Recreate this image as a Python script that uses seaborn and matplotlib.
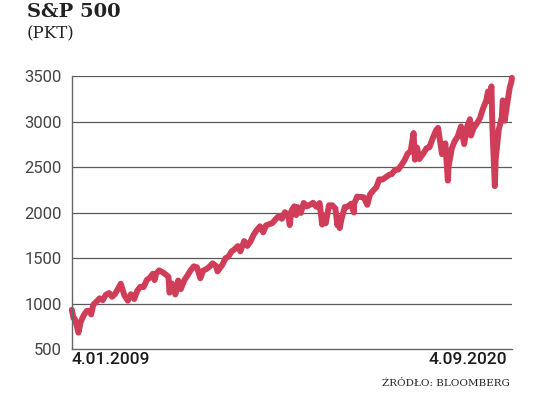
import matplotlib
matplotlib.use("Agg")
import matplotlib.pyplot as plt
import seaborn as sns
import pandas as pd
import numpy as np

dates = [
    "2009-01-04", "2009-01-20", "2009-02-02", "2009-02-23", "2009-03-09", "2009-03-31", "2009-04-30", "2009-05-29",
    "2009-06-30", "2009-07-10", "2009-07-31", "2009-08-31", "2009-09-30", "2009-10-30", "2009-11-30", "2009-12-31",
    "2010-01-29", "2010-02-26", "2010-03-31", "2010-04-23", "2010-05-28", "2010-06-30", "2010-07-30", "2010-08-31",
    "2010-09-30", "2010-10-29", "2010-11-30", "2010-12-31",
    "2011-01-31", "2011-02-28", "2011-03-16", "2011-03-31", "2011-04-29", "2011-05-31", "2011-06-30", "2011-07-29",
    "2011-08-08", "2011-08-31", "2011-09-30", "2011-10-03", "2011-10-31", "2011-11-25", "2011-12-30",
    "2012-01-31", "2012-02-29", "2012-03-30", "2012-04-30", "2012-06-01", "2012-06-29", "2012-07-31", "2012-08-31",
    "2012-09-28", "2012-10-31", "2012-11-15", "2012-12-31",
    "2013-01-31", "2013-02-28", "2013-03-29", "2013-04-30", "2013-05-31", "2013-06-24", "2013-07-31", "2013-08-30",
    "2013-09-30", "2013-10-31", "2013-11-29", "2013-12-31",
    "2014-01-31", "2014-02-28", "2014-03-31", "2014-04-30", "2014-05-30", "2014-06-30", "2014-07-31", "2014-08-29",
    "2014-09-30", "2014-10-15", "2014-10-31", "2014-11-28", "2014-12-16", "2014-12-31",
    "2015-01-30", "2015-02-27", "2015-03-31", "2015-04-30", "2015-05-29", "2015-06-30", "2015-07-31", "2015-08-25",
    "2015-08-31", "2015-09-29", "2015-10-30", "2015-11-30", "2015-12-31",
    "2016-01-20", "2016-01-29", "2016-02-11", "2016-02-29", "2016-03-31", "2016-04-29", "2016-05-31", "2016-06-27",
    "2016-06-30", "2016-07-29", "2016-08-31", "2016-09-30", "2016-11-04", "2016-11-30", "2016-12-30",
    "2017-01-31", "2017-02-28", "2017-03-31", "2017-04-28", "2017-05-31", "2017-06-30", "2017-07-31", "2017-08-31",
    "2017-09-29", "2017-10-31", "2017-11-30", "2017-12-29",
    "2018-01-26", "2018-02-08", "2018-02-28", "2018-03-23", "2018-04-30", "2018-05-31", "2018-06-29", "2018-07-31",
    "2018-08-31", "2018-09-20", "2018-10-29", "2018-11-30", "2018-12-24", "2018-12-31",
    "2019-01-31", "2019-02-28", "2019-03-29", "2019-04-30", "2019-05-31", "2019-06-28", "2019-07-26", "2019-08-05",
    "2019-08-30", "2019-09-30", "2019-10-31", "2019-11-29", "2019-12-31",
    "2020-01-17", "2020-01-31", "2020-02-19", "2020-02-28", "2020-03-23", "2020-03-31", "2020-04-30", "2020-05-29",
    "2020-06-08", "2020-06-26", "2020-07-31", "2020-08-14", "2020-08-31", "2020-09-04",
]
values = [
    931, 840, 830, 745, 680, 798, 873, 919,
    919, 880, 987, 1021, 1057, 1036, 1096, 1115,
    1074, 1104, 1169, 1217, 1089, 1031, 1102, 1049,
    1141, 1183, 1181, 1258,
    1286, 1327, 1257, 1326, 1364, 1345, 1321, 1292,
    1119, 1219, 1131, 1099, 1253, 1158, 1258,
    1312, 1366, 1408, 1398, 1278, 1362, 1379, 1407,
    1441, 1412, 1353, 1426,
    1498, 1515, 1569, 1598, 1631, 1573, 1686, 1633,
    1682, 1757, 1806, 1848,
    1783, 1859, 1872, 1884, 1924, 1960, 1931, 2003,
    1972, 1862, 2018, 2068, 1972, 2059,
    1995, 2105, 2068, 2086, 2107, 2063, 2104, 1868,
    1972, 1882, 2079, 2080, 2044,
    1859, 1940, 1829, 1932, 2060, 2065, 2097, 2000,
    2099, 2174, 2171, 2168, 2085, 2199, 2239,
    2279, 2364, 2363, 2384, 2412, 2423, 2470, 2472,
    2519, 2575, 2648, 2674,
    2873, 2581, 2714, 2588, 2648, 2705, 2718, 2816,
    2902, 2930, 2641, 2760, 2351, 2507,
    2704, 2784, 2834, 2946, 2752, 2942, 3025, 2845,
    2926, 2977, 3038, 3141, 3231,
    3330, 3226, 3386, 2954, 2290, 2585, 2912, 3044,
    3232, 3009, 3271, 3372, 3440, 3480,
]

df = pd.DataFrame({"date": pd.to_datetime(dates), "value": values})

sns.set_style("white")
plt.rcParams["font.family"] = ["Roboto", "DejaVu Sans"]

fig = plt.figure(figsize=(5.36, 3.99), dpi=100)
ax = fig.add_axes([0.134, 0.1253, 0.821, 0.6842])

line_color = "#d03d59"
sns.lineplot(data=df, x="date", y="value", ax=ax, color=line_color,
             linewidth=4.3, solid_capstyle="round", solid_joinstyle="round")
for l in ax.lines:
    l.set_clip_on(False)

ax.set_xlim(df["date"].iloc[0], df["date"].iloc[-1])
ax.set_ylim(500, 3500)
yticks = [500, 1000, 1500, 2000, 2500, 3000, 3500]
ax.set_yticks(yticks)
ax.set_yticklabels([str(t) for t in yticks], fontsize=12, color="#444444")
ax.set_xticks([])
ax.set_xlabel("")
ax.set_ylabel("")
ax.tick_params(axis="y", length=0, pad=7)

for t in yticks[1:]:
    ax.axhline(t, color="#5a5a5a", linewidth=0.9, zorder=0)

for s in ["top", "right"]:
    ax.spines[s].set_visible(False)
ax.spines["left"].set_color("#666666")
ax.spines["left"].set_linewidth(1.0)
ax.spines["bottom"].set_color("#666666")
ax.spines["bottom"].set_linewidth(1.0)

fig.text(72 / 536, 1 - 352 / 399, "4.01.2009", ha="left", va="top",
         fontsize=12.5, fontweight="medium", color="#1a1a1a")
fig.text(507 / 536, 1 - 352 / 399, "4.09.2020", ha="right", va="top",
         fontsize=12.5, fontweight="medium", color="#1a1a1a")

fig.text(27 / 536, 1 - 3 / 399, "S&P 500", ha="left", va="top", fontsize=14,
         fontweight="bold", family=["DejaVu Serif"], color="#222222")
fig.text(27 / 536, 1 - 25 / 399, "(PKT)", ha="left", va="top", fontsize=12,
         family=["DejaVu Serif"], color="#222222")
fig.text(510 / 536, 1 - 379 / 399, "ŹRÓDŁO: BLOOMBERG", ha="right", va="top", fontsize=7.5,
         family=["DejaVu Serif"], color="#222222")

fig.savefig("out.png", dpi=100)
